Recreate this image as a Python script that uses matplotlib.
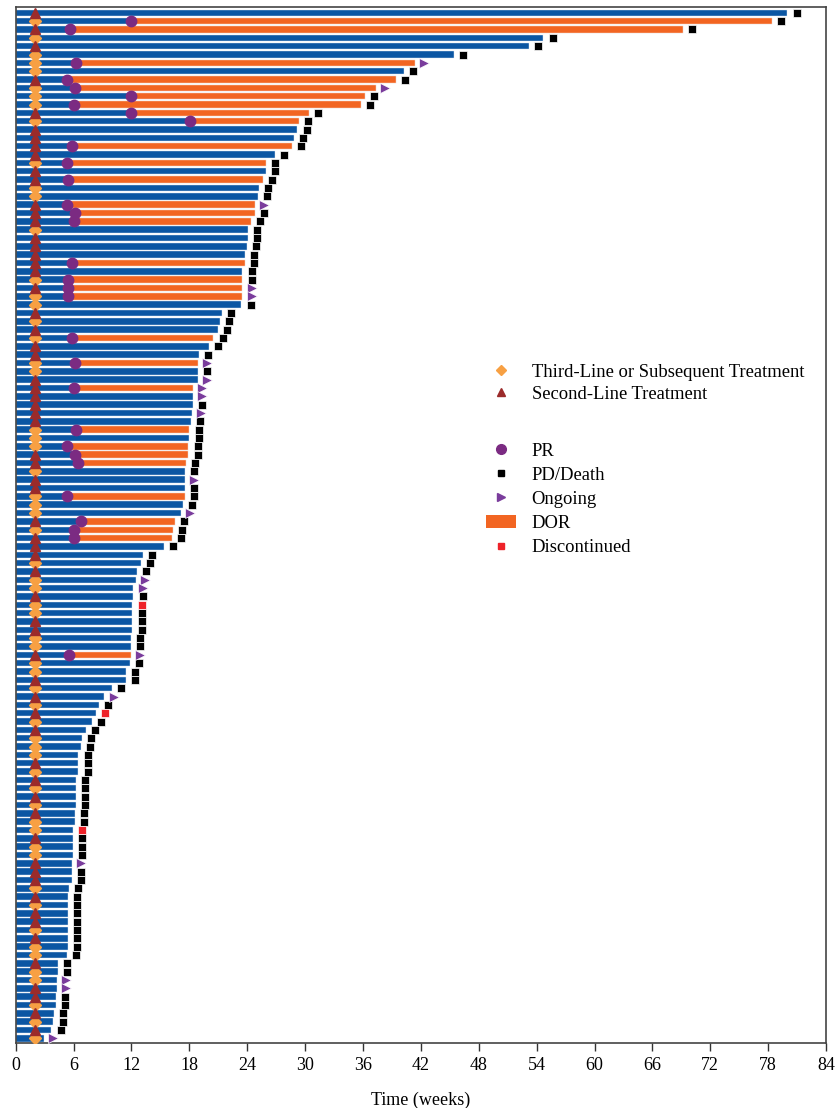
import numpy as np
import matplotlib
matplotlib.use('Agg')
import matplotlib.pyplot as plt
from matplotlib.lines import Line2D
from matplotlib.patches import Patch

plt.rcParams['font.family'] = ['Liberation Serif', 'DejaVu Serif']

# one entry per patient, top of chart first
# prior line of treatment: 2 = second-line, 3 = third-line or later
prior_line = [2, 3, 2, 3, 2, 3, 3, 3, 2, 3, 3, 3, 2, 3, 2, 2, 2, 2, 3, 2,
              2, 3, 3, 2, 2, 2, 3, 2, 2, 2, 2, 2, 3, 2, 3, 3, 2, 3, 2, 3,
              2, 2, 3, 3, 2, 2, 2, 2, 2, 2, 3, 3, 3, 2, 2, 3, 2, 2, 3, 3,
              3, 2, 3, 2, 2, 2, 3, 2, 3, 3, 2, 3, 3, 2, 2, 3, 3, 2, 3, 3,
              2, 3, 2, 3, 2, 3, 2, 3, 3, 3, 2, 3, 2, 3, 2, 3, 2, 3, 3, 2,
              3, 3, 2, 2, 2, 3, 2, 3, 2, 2, 3, 2, 3, 3, 2, 3, 3, 2, 2, 3,
              2, 3, 2, 3]

# time on treatment (weeks)
weeks = [80.0, 78.4, 69.2, 54.7, 53.2, 45.4, 41.4, 40.2, 39.4, 37.3,
         36.2, 35.8, 30.4, 29.4, 29.2, 28.8, 28.6, 26.9, 25.9, 25.9,
         25.6, 25.2, 25.1, 24.8, 24.8, 24.4, 24.1, 24.1, 24.0, 23.8,
         23.8, 23.5, 23.5, 23.5, 23.5, 23.4, 21.4, 21.2, 21.0, 20.5,
         20.0, 19.0, 18.9, 18.9, 18.9, 18.4, 18.4, 18.4, 18.3, 18.2,
         18.0, 18.0, 17.9, 17.9, 17.6, 17.5, 17.5, 17.5, 17.5, 17.3,
         17.1, 16.5, 16.3, 16.2, 15.4, 13.2, 13.0, 12.6, 12.5, 12.2,
         12.2, 12.1, 12.1, 12.1, 12.1, 11.9, 11.9, 11.9, 11.8, 11.4,
         11.4, 10.0, 9.2, 8.6, 8.3, 7.9, 7.3, 6.9, 6.8, 6.5,
         6.5, 6.5, 6.2, 6.2, 6.2, 6.2, 6.1, 6.1, 5.95, 5.95,
         5.95, 5.95, 5.8, 5.8, 5.8, 5.5, 5.4, 5.4, 5.4, 5.4,
         5.4, 5.4, 5.4, 5.3, 4.4, 4.4, 4.3, 4.3, 4.2, 4.2,
         4.0, 3.9, 3.7, 2.9]

# time of partial response (weeks), nan = no response
nan = np.nan
pr_week = [nan, 12.0, 5.6, nan, nan, nan, 6.3, nan, 5.3, 6.1,
           12.0, 6.0, 12.0, 18.1, nan, nan, 5.8, nan, 5.3, nan,
           5.4, nan, nan, 5.3, 6.1, 6.0, nan, nan, nan, nan,
           5.8, nan, 5.4, 5.4, 5.4, nan, nan, nan, nan, 5.8,
           nan, nan, 6.1, nan, nan, 6.0, nan, nan, nan, nan,
           6.3, nan, 5.3, 6.1, 6.5, nan, nan, nan, 5.3, nan,
           nan, 6.8, 6.0, 6.0, nan, nan, nan, nan, nan, nan,
           nan, nan, nan, nan, nan, nan, nan, 5.5, nan, nan,
           nan, nan, nan, nan, nan, nan, nan, nan, nan, nan,
           nan, nan, nan, nan, nan, nan, nan, nan, nan, nan,
           nan, nan, nan, nan, nan, nan, nan, nan, nan, nan,
           nan, nan, nan, nan, nan, nan, nan, nan, nan, nan,
           nan, nan, nan, nan]

# end status: PD = progression/death, ON = ongoing, DC = discontinued
status = ['PD', 'PD', 'PD', 'PD', 'PD', 'PD', 'ON', 'PD', 'PD', 'ON',
          'PD', 'PD', 'PD', 'PD', 'PD', 'PD', 'PD', 'PD', 'PD', 'PD',
          'PD', 'PD', 'PD', 'ON', 'PD', 'PD', 'PD', 'PD', 'PD', 'PD',
          'PD', 'PD', 'PD', 'ON', 'ON', 'PD', 'PD', 'PD', 'PD', 'PD',
          'PD', 'PD', 'ON', 'PD', 'ON', 'ON', 'ON', 'PD', 'ON', 'PD',
          'PD', 'PD', 'PD', 'PD', 'PD', 'PD', 'ON', 'PD', 'PD', 'PD',
          'ON', 'PD', 'PD', 'PD', 'PD', 'PD', 'PD', 'PD', 'ON', 'ON',
          'PD', 'DC', 'PD', 'PD', 'PD', 'PD', 'PD', 'ON', 'PD', 'PD',
          'PD', 'PD', 'ON', 'PD', 'DC', 'PD', 'PD', 'PD', 'PD', 'PD',
          'PD', 'PD', 'PD', 'PD', 'PD', 'PD', 'PD', 'PD', 'DC', 'PD',
          'PD', 'PD', 'ON', 'PD', 'PD', 'PD', 'PD', 'PD', 'PD', 'PD',
          'PD', 'PD', 'PD', 'PD', 'PD', 'PD', 'ON', 'ON', 'PD', 'PD',
          'PD', 'PD', 'PD', 'ON']

start_week = 2.0
xticks = list(range(0, 85, 6))

BLUE = '#0b56a3'
ORANGE = '#f26522'
LIGHT_ORANGE = '#f7a043'
DARK_RED = '#9b2b2b'
PURPLE = '#7b2b82'
ONGOING = '#7a3c9c'
RED = '#ee2229'

weeks = np.array(weeks)
pr_week = np.array(pr_week)
n = len(weeks)
y = np.arange(n)[::-1]

fig = plt.figure(figsize=(8.36, 11.08), dpi=100)
ax = fig.add_axes([0.0188, 0.0587, 0.9693, 0.935])

bh = 0.78
ax.barh(y, weeks, height=bh, color=BLUE, edgecolor='#dfe8f3', linewidth=0.3, zorder=2)

has_pr = ~np.isnan(pr_week)
ax.barh(y[has_pr], weeks[has_pr] - pr_week[has_pr], left=pr_week[has_pr],
        height=bh, color=ORANGE, edgecolor='#fbe0d2', linewidth=0.3, zorder=3)

line = np.array(prior_line)
ax.plot(np.full((line == 3).sum(), start_week), y[line == 3], 'D', color=LIGHT_ORANGE,
        ms=6, ls='none', zorder=4)
ax.plot(np.full((line == 2).sum(), start_week), y[line == 2], '^', color=DARK_RED,
        ms=7.5, ls='none', zorder=4)

ax.plot(pr_week[has_pr], y[has_pr], 'o', color=PURPLE, ms=7.5, ls='none', zorder=5)

st = np.array(status)
off = 0.95
for code, mk, col, ms in [('PD', 's', 'black', 5.2), ('ON', '>', ONGOING, 6.5), ('DC', 's', RED, 5.2)]:
    sel = st == code
    ax.plot(weeks[sel] + off, y[sel], mk, color=col, ms=ms, mec='white', mew=0.5,
            ls='none', zorder=5)

ax.set_xlim(0, 84)
ax.set_ylim(-0.55, n - 0.3)
ax.set_xticks(xticks)
ax.set_yticks([])
ax.tick_params(axis='x', direction='out', length=6, width=1, labelsize=13,
               colors='#333333', labelcolor='black', pad=4)
for sp in ax.spines.values():
    sp.set_color('#444444')
    sp.set_linewidth(1.2)
ax.set_xlabel('Time (weeks)', fontsize=13, labelpad=13)

fig.legend(
    handles=[Line2D([], [], marker='D', color=LIGHT_ORANGE, ls='none', ms=5),
             Line2D([], [], marker='^', color=DARK_RED, ls='none', ms=6)],
    labels=['Third-Line or Subsequent Treatment', 'Second-Line Treatment'],
    loc='upper left', bbox_to_anchor=(0.5813, 0.6715), frameon=False, fontsize=13.4,
    borderpad=0, borderaxespad=0, handlelength=1.6, handletextpad=0.85, labelspacing=0.25)

fig.legend(
    handles=[Line2D([], [], marker='o', color=PURPLE, ls='none', ms=7),
             Line2D([], [], marker='s', color='black', ls='none', ms=4.5),
             Line2D([], [], marker='>', color=ONGOING, ls='none', ms=5.5),
             Patch(facecolor=ORANGE, edgecolor='none'),
             Line2D([], [], marker='s', color=RED, ls='none', ms=4.5)],
    labels=['PR', 'PD/Death', 'Ongoing', 'DOR', 'Discontinued'],
    loc='upper left', bbox_to_anchor=(0.5813, 0.6005), frameon=False, fontsize=13.4,
    borderpad=0, borderaxespad=0, handlelength=1.6, handletextpad=0.85, labelspacing=0.38)

fig.savefig('out.png', dpi=100)
